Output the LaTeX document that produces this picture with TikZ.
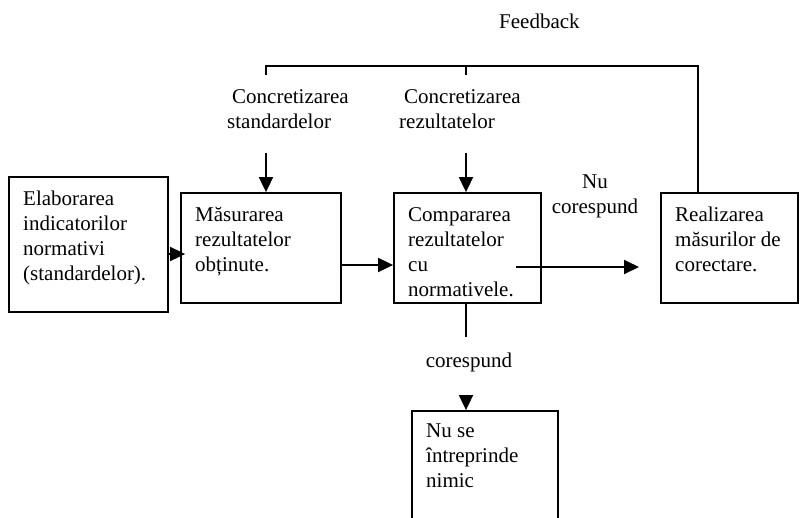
\documentclass[tikz,border=0pt]{standalone}
\usepackage{fontspec}
\setmainfont{Liberation Serif}
\usetikzlibrary{arrows.meta}
% stacked lines whose baseline is the baseline of the first line
\newcommand\leftlines[1]{\begin{tabular}[t]{@{}l@{}}#1\end{tabular}}
\newcommand\midlines[1]{\begin{tabular}[t]{@{}c@{}}#1\end{tabular}}
\begin{document}
\begin{tikzpicture}[x=1pt,y=-1pt,
  font=\fontsize{21}{25}\selectfont,
  stage/.style={draw,line width=1.8pt,rectangle,inner sep=0pt},
  txt/.style={anchor=base west,inner sep=0pt},
  ctxt/.style={anchor=base,inner sep=0pt},
  conn/.style={line width=1.8pt},
  arr/.style={-{Triangle[length=15pt,width=14pt]}}]
\useasboundingbox (0,0) rectangle (800,517);
\clip (0,0) rectangle (800,517);

% process boxes
\node[stage,minimum width=159pt,minimum height=135pt] (elab) at (88.5,244.5) {};
\node[stage,minimum width=160pt,minimum height=110pt] (mas) at (261,248) {};
\node[stage,minimum width=147pt,minimum height=110pt] (comp) at (467.5,248) {};
\node[stage,minimum width=137pt,minimum height=110pt] (real) at (729.5,248) {};
\node[stage,minimum width=146pt,minimum height=130pt] (nimic) at (485,476) {};

% box texts
\node[txt] (elabT) at (23,205) {\leftlines{Elaborarea\\indicatorilor\\normativi\\(standardelor).}};
\node[txt] (masT) at (195,221) {\leftlines{Măsurarea\\rezultatelor\\obținute.}};
\node[txt] (compT) at (408,221) {\leftlines{Compararea\\rezultatelor\\cu\\normativele.}};
\node[txt] (realT) at (675,221) {\leftlines{Realizarea\\măsurilor de\\corectare.}};
\node[txt] (nimicT) at (426,437) {\leftlines{Nu se\\întreprinde\\nimic}};

% free labels
\node[txt] (fbT) at (499,28) {Feedback};
\node[txt] (stdT) at (227,103) {\leftlines{\hspace{5pt}Concretizarea\\standardelor}};
\node[txt] (rezT) at (399,103) {\leftlines{\hspace{5pt}Concretizarea\\rezultatelor}};
\node[ctxt] (nuT) at (595,188) {\midlines{Nu\\corespund}};
\node[ctxt] (coT) at (469,367) {corespund};

% feedback loop
\coordinate (fbL) at (266,66);
\coordinate (fbM) at (466,66);
\coordinate (fbR) at (698,66);
\draw[conn] (real.north -| fbR) -- (fbR) -- (fbL) -- ++(0,9);
\draw[conn] (fbM) -- ++(0,9);

% inputs from above
\coordinate (stdIn) at (266,153);
\coordinate (rezIn) at (466,153);
\draw[conn,arr] (stdIn) -- (stdIn |- mas.north);
\draw[conn,arr] (rezIn) -- (rezIn |- comp.north);

% main flow
\coordinate (yA) at (0,254);
\coordinate (yB) at (0,265);
\draw[conn,arr,shorten >=-5pt] (elab.east |- yA) -- (mas.west |- yA);
\draw[conn,arr] (mas.east |- yB) -- (comp.west |- yB);
\coordinate (nuStart) at (516,267);
\coordinate (nuEnd) at (639,267);
\draw[conn,arr] (nuStart) -- (nuEnd);

% branch downwards
\coordinate (coDown) at (466,337);
\coordinate (coIn) at (466,396);
\draw[conn] (comp.south -| coDown) -- (coDown);
\draw[conn,arr] (coIn) -- (coIn |- nimic.north);
\end{tikzpicture}
\end{document}
